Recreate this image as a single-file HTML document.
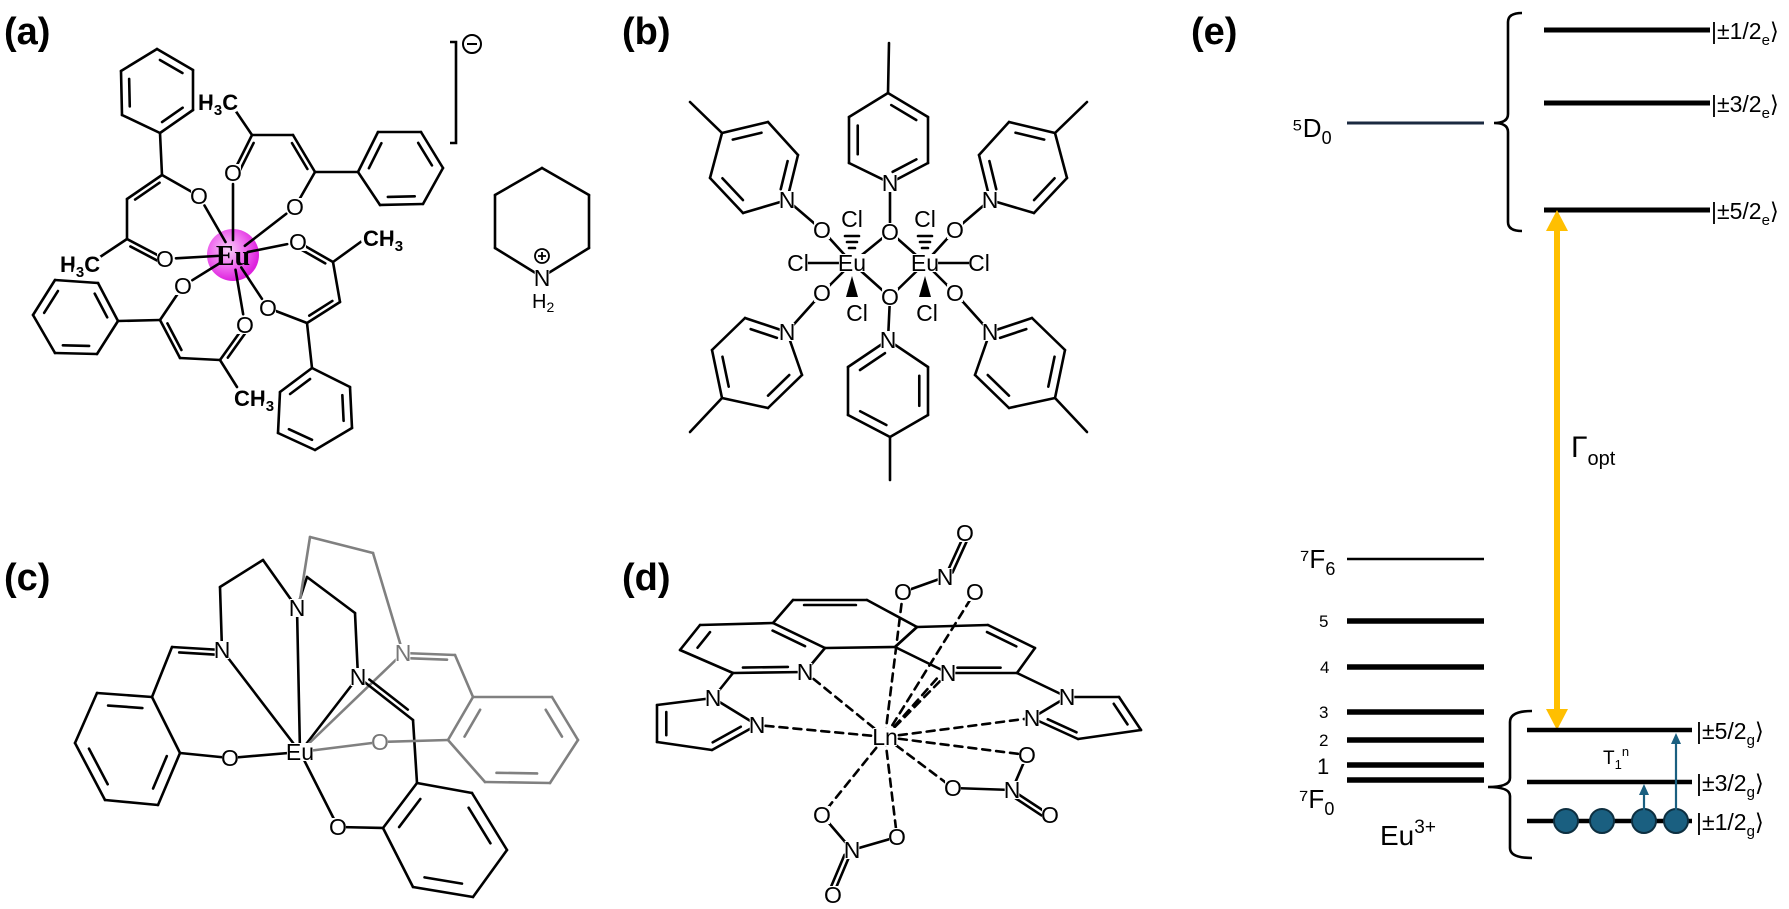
<!DOCTYPE html>
<html><head><meta charset="utf-8">
<style>
html,body{margin:0;padding:0;background:#fff;}
svg{display:block;}
text{font-family:"Liberation Sans",Arial,sans-serif;fill:#000;}
.at{font-size:23px;text-anchor:middle;dominant-baseline:central;}
.atg{font-size:23px;text-anchor:middle;dominant-baseline:central;fill:#777;}
.lab{font-size:38px;font-weight:bold;}
.lv{font-size:23px;}
</style></head>
<body>
<svg id="s" width="1789" height="909" viewBox="0 0 1789 909" xmlns="http://www.w3.org/2000/svg">
<defs>
<radialGradient id="mg" cx="40%" cy="40%" r="60%">
<stop offset="0" stop-color="#f7d0f7"/><stop offset="0.6" stop-color="#ee66ee"/><stop offset="1" stop-color="#dd22dd"/>
</radialGradient>
</defs>
<g id="g" stroke="#000" stroke-width="2.6" stroke-linecap="round" fill="none"></g>
<g id="bg" fill="#fff"></g>
<circle cx="233" cy="255" r="26" fill="url(#mg)"/>
<g id="g2" stroke="#000" stroke-width="2.6" stroke-linecap="round" fill="none"></g>

<!-- panel labels -->
<text class="lab" x="4" y="44">(a)</text>
<text class="lab" x="622" y="44">(b)</text>
<text class="lab" x="4" y="590">(c)</text>
<text class="lab" x="622" y="590">(d)</text>
<text class="lab" x="1191" y="44">(e)</text>

<!-- panel a labels -->
<text class="at" x="199" y="196">O</text>
<text class="at" x="233" y="173">O</text>
<text class="at" x="295" y="207">O</text>
<text class="at" x="298" y="242">O</text>
<text class="at" x="165" y="259">O</text>
<text class="at" x="183" y="286">O</text>
<text class="at" x="245" y="325">O</text>
<text class="at" x="268" y="308">O</text>
<text x="233" y="265" style="font-family:'Liberation Serif',serif;font-weight:bold;font-size:28px;" text-anchor="middle">Eu</text>
<text x="60" y="272" font-size="22" font-weight="bold" style="paint-order:stroke;stroke:#fff;stroke-width:6px">H<tspan font-size="15" dy="5">3</tspan><tspan dy="-5">C</tspan></text>
<text x="198" y="110" font-size="22" font-weight="bold" style="paint-order:stroke;stroke:#fff;stroke-width:6px">H<tspan font-size="15" dy="5">3</tspan><tspan dy="-5">C</tspan></text>
<text x="363" y="246" font-size="22" font-weight="bold" style="paint-order:stroke;stroke:#fff;stroke-width:6px">CH<tspan font-size="15" dy="5">3</tspan></text>
<text x="234" y="406" font-size="22" font-weight="bold" style="paint-order:stroke;stroke:#fff;stroke-width:6px">CH<tspan font-size="15" dy="5">3</tspan></text>
<polyline points="450,42 456,42 456,143 450,143" fill="none" stroke="#000" stroke-width="2.6"/>
<circle cx="472" cy="44" r="9" fill="none" stroke="#000" stroke-width="2"/>
<line x1="467" y1="44" x2="477" y2="44" stroke="#000" stroke-width="2"/>
<text class="at" x="542" y="278">N</text>
<circle cx="542" cy="256" r="7" fill="#fff" stroke="#000" stroke-width="1.8"/>
<path d="M538 256h8M542 252v8" stroke="#000" stroke-width="1.8"/>
<text x="532" y="308" font-size="20">H<tspan font-size="14" dy="4">2</tspan></text>

<!-- panel b labels -->
<text class="at" x="852" y="263">Eu</text>
<text class="at" x="925" y="263">Eu</text>
<text class="at" x="798" y="263">Cl</text>
<text class="at" x="979" y="263">Cl</text>
<text class="at" x="852" y="219">Cl</text>
<text class="at" x="925" y="219">Cl</text>
<text class="at" x="857" y="313">Cl</text>
<text class="at" x="927" y="313">Cl</text>
<text class="at" x="890" y="232">O</text>
<text class="at" x="890" y="297">O</text>
<text class="at" x="822" y="230">O</text>
<text class="at" x="822" y="293">O</text>
<text class="at" x="955" y="230">O</text>
<text class="at" x="955" y="293">O</text>
<text class="at" x="890" y="183">N</text>
<text class="at" x="888" y="340">N</text>
<text class="at" x="787" y="200">N</text>
<text class="at" x="787" y="332">N</text>
<text class="at" x="990" y="200">N</text>
<text class="at" x="990" y="332">N</text>

<!-- panel c labels -->
<text class="at" x="300" y="752">Eu</text>
<text class="at" x="222" y="650">N</text>
<text class="at" x="297" y="608">N</text>
<text class="at" x="358" y="677">N</text>
<text class="atg" x="403" y="653">N</text>
<text class="at" x="230" y="758">O</text>
<text class="at" x="338" y="827">O</text>
<text class="atg" x="380" y="742">O</text>

<!-- panel d labels -->
<text class="at" x="885" y="737">Ln</text>
<text class="at" x="805" y="672">N</text>
<text class="at" x="713" y="698">N</text>
<text class="at" x="757" y="725">N</text>
<text class="at" x="948" y="673">N</text>
<text class="at" x="1067" y="697">N</text>
<text class="at" x="1032" y="718">N</text>
<text class="at" x="903" y="592">O</text>
<text class="at" x="945" y="577">N</text>
<text class="at" x="965" y="533">O</text>
<text class="at" x="975" y="592">O</text>
<text class="at" x="1027" y="755">O</text>
<text class="at" x="953" y="788">O</text>
<text class="at" x="1012" y="790">N</text>
<text class="at" x="1050" y="815">O</text>
<text class="at" x="822" y="815">O</text>
<text class="at" x="897" y="837">O</text>
<text class="at" x="852" y="850">N</text>
<text class="at" x="833" y="895">O</text>

<!-- panel e -->
<text x="1292" y="137" font-size="26">⁵<tspan>D</tspan><tspan font-size="18" dy="7">0</tspan></text>
<line x1="1347" y1="123" x2="1484" y2="123" stroke="#1b2a40" stroke-width="3"/>
<path d="M1522 13 Q1508 13 1508 22 L1508 114 Q1508 123 1494 123 Q1508 123 1508 132 L1508 222 Q1508 231 1522 231" fill="none" stroke="#000" stroke-width="2.6"/>
<g stroke="#000" stroke-width="5">
<line x1="1544" y1="30" x2="1710" y2="30"/>
<line x1="1544" y1="103" x2="1710" y2="103"/>
<line x1="1544" y1="210" x2="1710" y2="210"/>
</g>
<text class="lv" x="1711" y="39">|±1/2<tspan font-size="15" dy="6">e</tspan><tspan dy="-6">⟩</tspan></text>
<text class="lv" x="1711" y="112">|±3/2<tspan font-size="15" dy="6">e</tspan><tspan dy="-6">⟩</tspan></text>
<text class="lv" x="1711" y="219">|±5/2<tspan font-size="15" dy="6">e</tspan><tspan dy="-6">⟩</tspan></text>
<line x1="1557" y1="228" x2="1557" y2="712" stroke="#ffbf00" stroke-width="6"/>
<polygon points="1557,210 1546,231 1568,231" fill="#ffbf00"/>
<polygon points="1557,730 1546,709 1568,709" fill="#ffbf00"/>
<text x="1571" y="457" font-size="30">Γ<tspan font-size="20" dy="8">opt</tspan></text>

<text x="1300" y="568" font-size="26">⁷<tspan>F</tspan><tspan font-size="18" dy="7">6</tspan></text>
<line x1="1347" y1="559" x2="1484" y2="559" stroke="#000" stroke-width="2.6"/>
<g stroke="#000" stroke-width="5.5">
<line x1="1347" y1="621" x2="1484" y2="621"/>
<line x1="1347" y1="667" x2="1484" y2="667"/>
<line x1="1347" y1="712" x2="1484" y2="712"/>
<line x1="1347" y1="740" x2="1484" y2="740"/>
<line x1="1347" y1="765" x2="1484" y2="765"/>
<line x1="1347" y1="780" x2="1484" y2="780"/>
</g>
<text x="1319" y="627" font-size="17">5</text>
<text x="1320" y="673" font-size="17">4</text>
<text x="1319" y="718" font-size="17">3</text>
<text x="1319" y="746" font-size="17">2</text>
<text x="1317" y="774" font-size="22">1</text>
<text x="1299" y="808" font-size="26">⁷<tspan>F</tspan><tspan font-size="18" dy="7">0</tspan></text>
<text x="1380" y="845" font-size="28">Eu<tspan font-size="19" dy="-12">3+</tspan></text>
<path d="M1532 711 Q1510 711 1510 722 L1510 778 Q1510 787 1488 787 Q1510 787 1510 796 L1510 848 Q1510 858 1532 858" fill="none" stroke="#000" stroke-width="2.6"/>
<g stroke="#000" stroke-width="4.5">
<line x1="1527" y1="730" x2="1692" y2="730"/>
<line x1="1527" y1="782" x2="1692" y2="782"/>
<line x1="1527" y1="821" x2="1692" y2="821"/>
</g>
<text class="lv" x="1696" y="739">|±5/2<tspan font-size="15" dy="6">g</tspan><tspan dy="-6">⟩</tspan></text>
<text class="lv" x="1696" y="791">|±3/2<tspan font-size="15" dy="6">g</tspan><tspan dy="-6">⟩</tspan></text>
<text class="lv" x="1696" y="830">|±1/2<tspan font-size="15" dy="6">g</tspan><tspan dy="-6">⟩</tspan></text>
<g fill="#1a5f80" stroke="#0d2f40" stroke-width="2">
<circle cx="1566" cy="821" r="12"/><circle cx="1602" cy="821" r="12"/>
<circle cx="1644" cy="821" r="12"/><circle cx="1676" cy="821" r="12"/>
</g>
<g stroke="#1a5f80" stroke-width="2.2">
<line x1="1644" y1="812" x2="1644" y2="792"/>
<line x1="1676" y1="810" x2="1676" y2="742"/>
</g>
<polygon points="1644,784 1639,795 1649,795" fill="#1a5f80"/>
<polygon points="1676,733 1671,744 1681,744" fill="#1a5f80"/>
<text x="1603" y="764" font-size="19">T<tspan font-size="13" dy="5">1</tspan><tspan font-size="13" dy="-13">n</tspan></text>
</svg>
<script>
(function(){
var g=document.getElementById('g'),g2=document.getElementById('g2'),NS='http://www.w3.org/2000/svg';
function L(a,b,c,d,col,dash,tg){var e=document.createElementNS(NS,'line');e.setAttribute('x1',a);e.setAttribute('y1',b);e.setAttribute('x2',c);e.setAttribute('y2',d);if(col)e.setAttribute('stroke',col);if(dash)e.setAttribute('stroke-dasharray',dash);(tg||g).appendChild(e);}
function D(a,b,c,d,s,col){L(a,b,c,d,col);var dx=c-a,dy=d-b,l=Math.hypot(dx,dy),nx=-dy/l*5*s,ny=dx/l*5*s;L(a+dx*.15+nx,b+dy*.15+ny,c-dx*.15+nx,d-dy*.15+ny,col);}
function R(p,dbl,col){var cx=0,cy=0;p.forEach(function(q){cx+=q[0];cy+=q[1];});cx/=p.length;cy/=p.length;
for(var i=0;i<p.length;i++){var A=p[i],B=p[(i+1)%p.length];L(A[0],A[1],B[0],B[1],col);
if(dbl.indexOf(i)>=0){var f=.22;var a1=A[0]+(cx-A[0])*f,b1=A[1]+(cy-A[1])*f,a2=B[0]+(cx-B[0])*f,b2=B[1]+(cy-B[1])*f;var dx=a2-a1,dy=b2-b1;L(a1+dx*.1,b1+dy*.1,a2-dx*.1,b2-dy*.1,col);}}}
// panel a
var E=[233,255];[[199,196],[233,173],[295,207],[298,242],[165,259],[183,286],[245,325],[268,308]].forEach(function(o){var dx=o[0]-E[0],dy=o[1]-E[1],l=Math.hypot(dx,dy);L(E[0]+dx/l*15,E[1]+dy/l*15,o[0]-dx/l*11,o[1]-dy/l*11,null,null,g2);});
L(199,196,162,175);L(162,175,160,133);D(162,175,127,199,-1);L(127,199,127,239);D(127,239,165,259,1);L(127,239,100,257);
D(233,173,252,135,1);L(252,135,233,107);L(252,135,293,135);D(293,135,315,172,1);L(315,172,295,207);L(315,172,358,172);
D(298,242,333,262,1);L(333,262,362,241);L(333,262,340,302);D(340,302,307,323,1);L(307,323,268,308);L(307,323,312,368);
L(183,286,160,320);L(160,320,118,321);D(160,320,180,358,-1);L(180,358,220,360);D(220,360,245,325,1);L(220,360,237,387);
R([[160,133],[122,115],[121,71],[157,49],[193,70],[193,110]],[1,3,5]);
R([[358,172],[380,205],[423,204],[443,168],[421,132],[378,132]],[1,3,5]);
R([[312,368],[350,387],[352,428],[315,450],[278,433],[280,392]],[1,3,5]);
R([[118,321],[98,283],[55,280],[33,315],[55,353],[97,354]],[0,2,4]);
R([[542,168],[589,195],[589,248],[542,277],[495,248],[495,195]],[]);
// panel b
var e1=[852,263],e2=[925,263];
L(852,263,800,263);L(925,263,977,263);
[[890,232],[890,297],[822,230],[822,293]].forEach(function(o){L(e1[0],e1[1],o[0],o[1]);});
[[890,232],[890,297],[955,230],[955,293]].forEach(function(o){L(e2[0],e2[1],o[0],o[1]);});
L(822,230,787,200);L(822,293,787,332);L(955,230,990,200);L(955,293,990,332);L(890,232,890,183);L(890,297,888,340);
[852,925].forEach(function(x){L(x-7,236,x+7,236,null,null,g2);L(x-5,242,x+5,242,null,null,g2);L(x-3,248,x+3,248,null,null,g2);
var t=document.createElementNS(NS,'polygon');t.setAttribute('points',(x)+',276 '+(x-6)+',297 '+(x+6)+',297');t.setAttribute('fill','#000');t.setAttribute('stroke','none');g2.appendChild(t);});
function mir(p){return p.map(function(q){return[1777-q[0],q[1]];});}
var tp=[[890,183],[849,163],[849,117],[888,93],[928,117],[928,163]];R(tp,[1,3,5]);L(888,93,889,43);
var lt=[[787,200],[798,155],[768,122],[722,133],[710,178],[743,213]];R(lt,[0,2,4]);L(722,133,690,102);
var lb=[[787,332],[802,375],[768,408],[722,398],[712,350],[745,318]];R(lb,[1,3,5]);L(722,398,690,432);
var bt=[[888,340],[848,367],[848,415],[890,437],[928,415],[928,367]];R(bt,[0,2,4]);L(890,437,890,480);
R(mir(lt),[0,2,4]);L(1777-722,133,1777-690,102);R(mir(lb),[1,3,5]);L(1777-722,398,1777-690,432);
// panel c
var gr='#808080';
L(300,752,222,650);L(300,752,297,608);L(300,752,358,677);L(300,752,230,758);L(300,752,338,827);
L(300,752,380,742,gr);L(300,752,403,653,gr);
L(222,650,220,587);L(220,587,263,560);L(263,560,297,608);L(297,608,307,577);L(307,577,355,613);L(355,613,358,677);
L(300,600,310,537,gr);L(310,537,373,553,gr);L(373,553,403,653,gr);
D(222,650,172,647,-1);L(172,647,152,697);
R([[152,697],[97,693],[75,743],[105,800],[158,805],[180,753]],[0,2,4]);L(180,753,230,758);
D(358,677,413,720,-1);L(413,720,417,783);
R([[417,783],[472,793],[507,850],[473,897],[413,887],[383,828]],[1,3,5]);L(383,828,338,827);
D(403,653,455,655,1,gr);L(455,655,473,697,gr);
R([[473,697],[552,697],[578,740],[550,783],[485,782],[448,740]],[1,3,5],gr);L(448,740,380,742,gr);
// panel d
R([[700,625],[680,650],[733,673],[805,672],[825,648],[773,623]],[0,2,4]);
L(773,623,793,600);D(793,600,867,600,1);L(867,600,917,627);L(895,647,825,648);L(917,627,895,647);
R([[917,627],[988,625],[1035,648],[1017,673],[948,673],[895,647]],[1,3]);
R([[713,698],[657,705],[657,742],[712,750],[757,725]],[1,3]);L(713,698,733,673);
R([[1067,697],[1119,697],[1141,730],[1078,739],[1032,718]],[1,3]);L(1067,697,1017,673);
var Ln=[885,737],dsh='8,6';
[[805,672],[757,725],[948,673],[1032,718],[1027,755],[953,788],[822,815],[897,837],[903,592],[975,592],[940,675]].forEach(function(o){L(Ln[0],Ln[1],o[0],o[1],null,dsh);});
L(903,592,945,577);D(945,577,965,533,1);
L(1027,755,1012,790);L(953,788,1012,790);D(1012,790,1050,815,1);
L(822,815,852,850);L(852,850,897,837);D(852,850,833,895,1);
// label backgrounds
var bg=document.getElementById('bg');
document.querySelectorAll('text.at,text.atg').forEach(function(t){var b=t.getBBox();var r=document.createElementNS(NS,'rect');r.setAttribute('x',b.x+1);r.setAttribute('y',b.y+4);r.setAttribute('width',Math.max(0,b.width-2));r.setAttribute('height',Math.max(0,b.height-8));bg.appendChild(r);});
})();
</script>
</body></html>
